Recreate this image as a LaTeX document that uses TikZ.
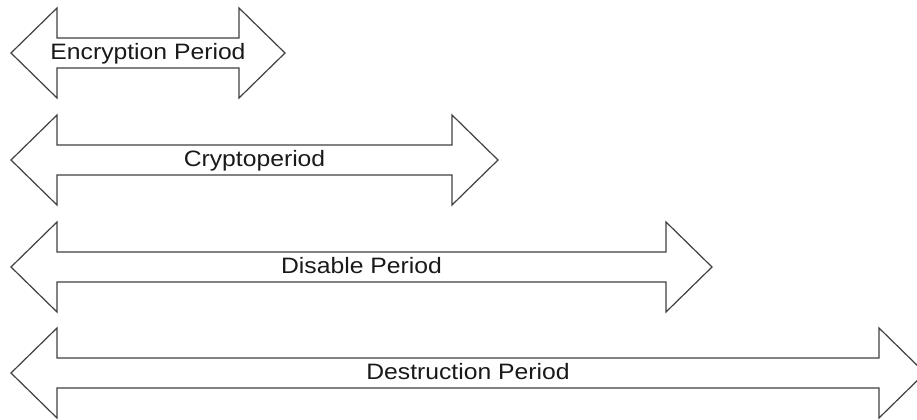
\documentclass[tikz,border=0pt]{standalone}
\usepackage{fontspec}
\setmainfont{Liberation Sans}

\begin{document}
\begin{tikzpicture} [x=0.75pt, y=-0.75pt,
  periodarrow/.style={draw=black!75, line width=0.9pt, fill=white, line join=miter},
  periodlabel/.style={anchor=base, inner sep=0, text=black!90, xscale=1.11, transform shape, font=\fontsize{16.7}{20}\selectfont}]
\useasboundingbox (0,0) rectangle (917,420);
\def\xl{57};
\foreach \yc/\xr/\lbl/\nm in {53/239/Encryption Period/encr, 160/452/Cryptoperiod/crypto, 267/666/Disable Period/disable, 373/879/Destruction Period/destr} {
 \draw[periodarrow] ({\xl-46},\yc) --++(46,-45) --++(0,30) -- (\xr,{\yc-15}) --++(0,-30) --++(46,45)
   --++(-46,45) --++(0,-30) -- (\xl,{\yc+15}) --++(0,30) -- cycle;
 \node[periodlabel] (\nm) at ({(\xl-46+\xr+46)/2},{\yc+6.5}) {\lbl};
}
\end{tikzpicture}
\end{document}
